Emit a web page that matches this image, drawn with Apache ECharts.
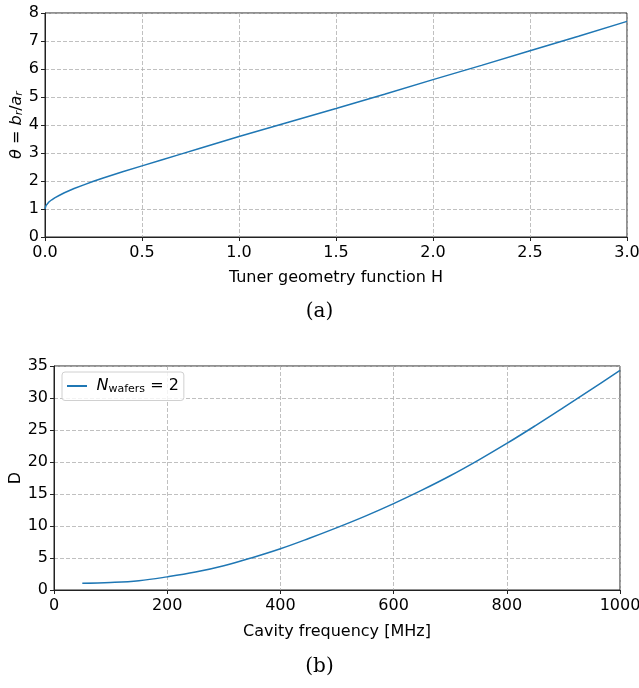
<!DOCTYPE html>
<html>
<head>
<meta charset="utf-8">
<script src="https://cdn.jsdelivr.net/npm/echarts@6/dist/echarts.min.js"></script>
<style>
  html, body { margin: 0; padding: 0; background: #fff; }
  #chart { width: 639px; height: 688px; }
</style>
</head>
<body>
<div id="chart"></div>
<script>
// (a) theta vs tuner geometry function H
const hValues = [0, 0.005, 0.01, 0.02, 0.035, 0.05, 0.075, 0.1, 0.15, 0.2, 0.25, 0.3, 0.4, 0.5, 0.6, 0.7, 0.8, 1.0, 1.25, 1.5, 1.75, 2.0, 2.25, 2.5, 2.75, 3.0];
const thetaValues = [1.0, 1.12, 1.18, 1.25, 1.33, 1.40, 1.49, 1.58, 1.73, 1.86, 1.99, 2.11, 2.33, 2.54, 2.75, 2.96, 3.17, 3.59, 4.09, 4.59, 5.10, 5.62, 6.13, 6.65, 7.17, 7.70];

// (b) D vs cavity frequency
const freqValues = [50, 100, 150, 200, 250, 300, 350, 400, 450, 500, 550, 600, 650, 700, 750, 800, 850, 900, 950, 1000];
const dValues = [1.05, 1.17, 1.45, 2.05, 2.8, 3.8, 5.05, 6.45, 8.05, 9.75, 11.55, 13.5, 15.6, 17.85, 20.3, 22.9, 25.65, 28.5, 31.4, 34.3];

const font = "DejaVu Sans";
const lineColor = "#1f77b4";

const gridLine = { show: true, lineStyle: { color: "#b0b0b0", type: [4, 2], width: 0.8 } };
const axisLine = { show: true, lineStyle: { color: "#222", width: 1 } };
const axisTick = { show: true, length: 4, lineStyle: { color: "#222" } };
const label = (fmt, m) => ({ color: "#000", fontFamily: font, fontSize: 16, margin: m, formatter: fmt });
const nameStyle = { color: "#000", fontFamily: font, fontSize: 16 };

const chart = echarts.init(document.getElementById("chart"), null, { renderer: "canvas" });

const pairs = (xs, ys) => xs.map((x, i) => [x, ys[i]]);

chart.setOption({
  animation: false,
  backgroundColor: "#fff",
  grid: [
    { left: 45, right: 12, top: 13, bottom: 451, outerBoundsMode: "none", containLabel: false, show: true, borderColor: "#222", borderWidth: 1, backgroundColor: "transparent" },
    { left: 54, right: 19, top: 366, bottom: 98, outerBoundsMode: "none", containLabel: false, show: true, borderColor: "#222", borderWidth: 1, backgroundColor: "transparent" }
  ],
  xAxis: [
    {
      gridIndex: 0, type: "value", min: 0, max: 3, interval: 0.5,
      name: "Tuner geometry function H", nameLocation: "middle", nameGap: 33, nameMoveOverlap: false, nameTextStyle: nameStyle,
      axisLine, axisTick, splitLine: gridLine,
      axisLabel: label((v) => v.toFixed(1), 8)
    },
    {
      gridIndex: 1, type: "value", min: 0, max: 1000, interval: 200,
      name: "Cavity frequency [MHz]", nameLocation: "middle", nameGap: 34, nameMoveOverlap: false, nameTextStyle: nameStyle,
      axisLine, axisTick, splitLine: gridLine,
      axisLabel: label((v) => String(v), 8)
    }
  ],
  yAxis: [
    {
      gridIndex: 0, type: "value", min: 0, max: 8, interval: 1,
      name: "{i|θ} = {i|b}{s|r}/{i|a}{s|r}", nameLocation: "middle", nameGap: 20, nameRotate: 90, nameMoveOverlap: false,
      nameTextStyle: {
        color: "#000", fontFamily: font, fontSize: 16,
        rich: {
          i: { fontFamily: font, fontSize: 16, fontStyle: "italic", color: "#000" },
          s: { fontFamily: font, fontSize: 11, fontStyle: "italic", color: "#000", verticalAlign: "bottom", padding: [6, 0, 0, 0] }
        }
      },
      axisLine, axisTick, splitLine: gridLine,
      axisLabel: label((v) => String(v), 6)
    },
    {
      gridIndex: 1, type: "value", min: 0, max: 35, interval: 5,
      name: "D", nameLocation: "middle", nameGap: 30, nameRotate: 90, nameMoveOverlap: false, nameTextStyle: nameStyle,
      axisLine, axisTick, splitLine: gridLine,
      axisLabel: label((v) => String(v), 6)
    }
  ],
  legend: {
    show: true,
    left: 62, top: 372,
    orient: "vertical",
    data: ["Nwafers"],
    icon: "path://M0,0 L1,0 L1,0.1 L0,0.1 Z",
    itemWidth: 29, itemHeight: 2,
    itemGap: 0,
    padding: [6, 5, 6, 5],
    borderColor: "#d0d0d0", borderWidth: 1, borderRadius: 3,
    backgroundColor: "rgba(255,255,255,0.8)",
    formatter: () => "{i|N}{s|wafers} = 2",
    textStyle: {
      color: "#000", fontFamily: font, fontSize: 16,
      rich: {
        i: { fontFamily: font, fontSize: 16, fontStyle: "italic", color: "#000" },
        s: { fontFamily: font, fontSize: 11, color: "#000", verticalAlign: "bottom", padding: [6, 0, 0, 0] }
      }
    }
  },
  title: [
    { text: "(a)", left: "center", top: 297, textStyle: { fontFamily: "DejaVu Serif", fontSize: 20, fontWeight: "normal", color: "#000" } },
    { text: "(b)", left: "center", top: 652, textStyle: { fontFamily: "DejaVu Serif", fontSize: 20, fontWeight: "normal", color: "#000" } }
  ],
  series: [
    {
      name: "theta", type: "line", xAxisIndex: 0, yAxisIndex: 0,
      data: pairs(hValues, thetaValues), smooth: false, showSymbol: false,
      lineStyle: { color: lineColor, width: 1.5 }, itemStyle: { color: lineColor }
    },
    {
      name: "Nwafers", type: "line", xAxisIndex: 1, yAxisIndex: 1,
      data: pairs(freqValues, dValues), smooth: 0.4, showSymbol: false,
      lineStyle: { color: lineColor, width: 1.5 }, itemStyle: { color: lineColor }
    }
  ]
});
</script>
</body>
</html>
